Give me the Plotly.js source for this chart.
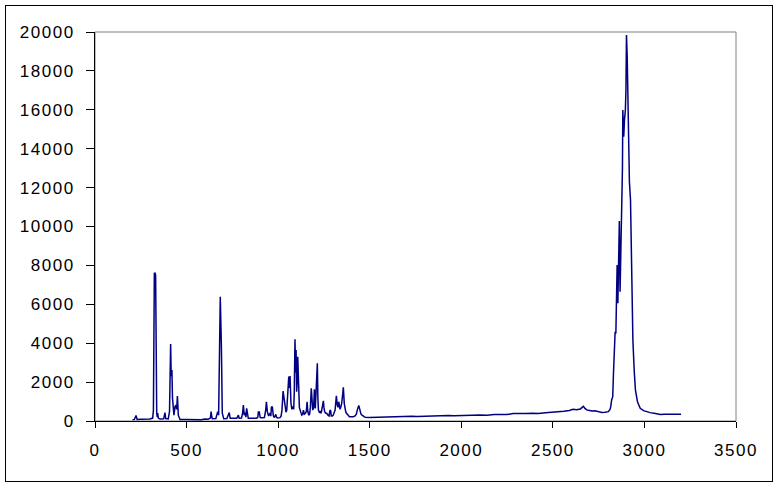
<!DOCTYPE html>
<html>
<head>
<meta charset="utf-8">
<script src="https://cdn.plot.ly/plotly-3.0.1.min.js"></script>
<style>
html, body { margin: 0; padding: 0; background: #fff; width: 779px; height: 488px; overflow: hidden; }
#frame { position: absolute; left: 5px; top: 5px; width: 766px; height: 475px; border: 1px solid #000; }
#chart { width: 766px; height: 475px; }
#chart .xtick text, #chart .ytick text { letter-spacing: 1.5px; }
</style>
</head>
<body>
<div id="frame"><div id="chart"></div></div>
<script>
// Raman shift (cm-1)
var shift = [205,215,224,230,250,273,300,315,319,324,328,331,334,337,340,342,346,355,375,382,386,400,407,410,413,416,420,423,426,431,437,442,446,450,455,464,500,525,550,580,600,617,630,634,638,641,660,670,675,679,684,690,695,703,720,733,738,760,774,783,787,800,806,810,815,819,824,828,832,837,860,883,889,892,897,902,910,925,932,936,941,948,956,960,963,968,974,980,987,992,998,1010,1016,1021,1027,1032,1038,1043,1047,1052,1058,1062,1065,1070,1075,1080,1085,1088,1092,1095,1098,1101,1104,1107,1112,1116,1120,1125,1129,1134,1138,1143,1149,1154,1158,1162,1167,1172,1176,1181,1185,1189,1194,1198,1203,1209,1214,1217,1220,1225,1229,1235,1240,1247,1250,1254,1260,1265,1272,1278,1283,1287,1290,1296,1301,1306,1311,1315,1318,1323,1327,1331,1335,1338,1343,1347,1351,1356,1361,1365,1369,1373,1378,1384,1389,1400,1410,1420,1427,1432,1436,1440,1443,1446,1449,1452,1458,1465,1475,1500,1530,1556,1580,1600,1620,1648,1680,1700,1730,1760,1800,1830,1860,1900,1930,1960,1993,2030,2060,2100,2140,2180,2220,2250,2283,2320,2350,2390,2420,2460,2501,2530,2560,2590,2610,2630,2650,2660,2667,2675,2685,2700,2715,2730,2745,2767,2785,2803,2812,2816,2821,2827,2831,2836,2840,2844,2847,2851,2855,2860,2863,2867,2871,2876,2880,2882,2887,2891,2896,2899,2902,2906,2909,2913,2918,2924,2927,2931,2937,2944,2951,2962,2977,2995,3010,3031,3060,3086,3110,3140,3170,3200];
// Intensity (counts)
var intensity = [60,80,280,80,90,100,100,150,560,7590,7600,7500,500,400,200,400,150,100,110,430,120,110,500,1940,3960,2300,2620,1200,740,300,740,820,600,1280,300,80,80,70,90,60,100,90,150,480,200,120,130,480,300,4210,6390,3900,400,120,130,430,140,140,140,300,140,150,400,820,300,430,200,650,300,140,140,140,200,460,460,180,170,180,560,990,480,260,400,250,700,740,260,180,340,180,150,170,250,560,1540,1160,560,450,560,1510,2280,1700,2310,910,600,740,600,1420,4200,2500,3650,1510,2000,3300,910,700,560,400,300,350,560,350,400,500,990,500,300,350,700,1680,900,560,700,1630,650,2280,2970,1200,560,450,480,400,770,1040,700,480,400,400,300,260,560,520,260,260,300,400,560,990,1290,820,700,990,650,600,740,900,1250,1730,910,650,480,400,360,280,220,200,220,260,350,560,700,800,700,560,450,360,300,260,190,180,190,190,200,210,200,220,230,220,240,230,250,260,250,270,280,270,290,290,300,310,300,330,340,330,380,370,390,400,380,420,450,440,500,540,600,580,620,700,750,650,570,540,510,530,480,440,450,480,600,740,1080,1250,2450,4330,4590,4500,7250,8020,6050,8960,10280,6650,8620,10850,13000,15990,14620,15470,15990,17000,19840,18730,16350,13500,12300,11360,9820,6390,4160,2620,1590,990,650,530,480,430,380,340,350,340,360,350];

var xTickVals = [0,500,1000,1500,2000,2500,3000,3500];
var yTickVals = [0,2000,4000,6000,8000,10000,12000,14000,16000,18000,20000];

var tickFont = {family: '"Liberation Sans", Arial, sans-serif', size: 17, color: '#000'};

var trace = {
  x: shift, y: intensity, type: 'scatter', mode: 'lines',
  line: {color: '#000080', width: 1.5},
  hoverinfo: 'x+y'
};

var layout = {
  width: 766, height: 475,
  margin: {l: 89, r: 36, t: 26, b: 60, pad: 0},
  paper_bgcolor: '#fff', plot_bgcolor: '#fff',
  showlegend: false,
  xaxis: {
    range: [0, 3500], tickvals: xTickVals, ticktext: xTickVals.map(String),
    showgrid: false, zeroline: false, showline: true, linecolor: '#000', linewidth: 1,
    ticks: 'outside', ticklen: 6, tickcolor: '#000', tickwidth: 1,
    tickfont: tickFont, ticklabelstandoff: 8
  },
  yaxis: {
    range: [0, 20000], tickvals: yTickVals, ticktext: yTickVals.map(String),
    showgrid: false, zeroline: false, showline: true, linecolor: '#000', linewidth: 1,
    ticks: 'outside', ticklen: 8, tickcolor: '#000', tickwidth: 1,
    tickfont: tickFont, ticklabelstandoff: 8
  },
  shapes: [{
    type: 'rect', xref: 'paper', yref: 'paper', x0: 0, x1: 1, y0: 0, y1: 1,
    line: {color: '#808080', width: 1}, fillcolor: 'rgba(0,0,0,0)', layer: 'below'
  }]
};

Plotly.newPlot('chart', [trace], layout, {displayModeBar: false, staticPlot: true});
</script>
</body>
</html>
